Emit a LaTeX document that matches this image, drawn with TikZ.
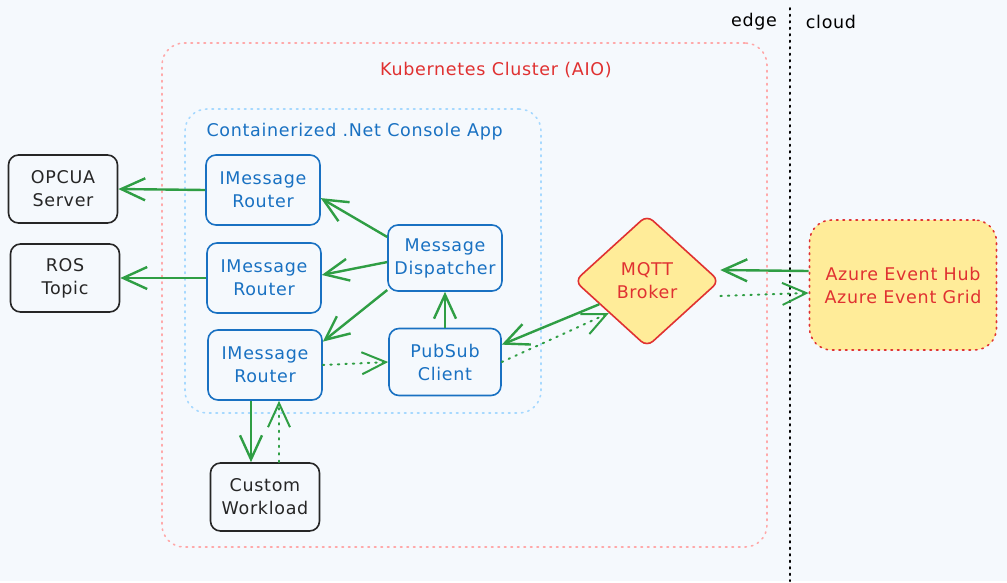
\documentclass[tikz,border=0pt]{standalone}
\usepackage{fontspec}
\setmainfont[LetterSpace=4]{DejaVu Sans}
\usetikzlibrary{positioning,shapes.geometric,arrows.meta}
\definecolor{bgblue}{HTML}{F5F9FD}
\definecolor{appblue}{HTML}{1971C2}
\definecolor{lightblue}{HTML}{A5D8FF}
\definecolor{aiored}{HTML}{E03131}
\definecolor{lightred}{HTML}{FFA8A8}
\definecolor{flowgreen}{HTML}{2F9E44}
\definecolor{hubyellow}{HTML}{FFEC99}

\begin{document}
\begin{tikzpicture}[x=1pt,y=-1pt,font=\fontsize{17.5}{23}\selectfont]
	\tikzstyle{box}=[draw, rounded corners=10pt, line width=1.6pt, align=center, inner sep=2pt]
	\tikzstyle{component}=[box, draw=appblue, text=appblue, minimum width=114pt, minimum height=70pt]
	\tikzstyle{endpoint}=[box, draw=black!85, text=black!85, minimum width=109pt, minimum height=68pt]
	\tikzstyle{region}=[rounded corners=22pt, line width=1.6pt, dash pattern=on 1.5pt off 5pt, line cap=round]
	\tikzstyle{flow}=[-{Straight Barb[length=24pt,width=22pt]}, draw=flowgreen, line width=2.4pt]
	\tikzstyle{reply}=[flow, line width=2pt, dash pattern=on 1.5pt off 6pt, line cap=round]

	\fill[bgblue] (0,0) rectangle (1007,581);

	\coordinate (split top) at (790,8);
	\coordinate (split bottom) at (790,581);
	\draw[black, line width=2pt, dash pattern=on 1.5pt off 5pt, line cap=round] (split top) -- (split bottom);
	\node (edge) at (754,22) {edge};
	\node (cloud) at (831,22) {cloud};

	\node (cluster) [region, draw=lightred, minimum width=605pt, minimum height=504pt] at (464.5,295) {};
	\node (cluster label) [text=aiored] at (496,70) {Kubernetes Cluster (AIO)};
	\node (app) [region, draw=lightblue, minimum width=356pt, minimum height=304pt] at (363,261) {};
	\node (app label) [text=appblue, anchor=west] at (203,132) {Containerized .Net Console App};

	\node (opcua) [endpoint] at (63,189) {OPCUA\\Server};
	\node (ros) [endpoint] at (65,278) {ROS\\Topic};
	\node (work) [endpoint] at (265,497) {Custom\\Workload};

	\node (r1) [component] at (263,190) {IMessage\\Router};
	\node (r2) [component] at (264,278) {IMessage\\Router};
	\node (r3) [component] at (265,365) {IMessage\\Router};
	\node (disp) [component, minimum height=66pt] at (445,258) {Message\\Dispatcher};
	\node (pubsub) [component, minimum width=112pt, minimum height=67pt] at (445,362) {PubSub\\Client};

	\node (broker) [diamond, draw=aiored, fill=hubyellow, text=aiored, line width=1.6pt, rounded corners=8pt, minimum width=145pt, minimum height=132pt, align=center, inner sep=0pt] at (647,281) {MQTT\\Broker};
	\node (azure) [box, draw=aiored, fill=hubyellow, text=aiored, rounded corners=22pt, dash pattern=on 1.5pt off 5pt, line cap=round, minimum width=187pt, minimum height=130pt] at (903,285) {Azure Event Hub\\Azure Event Grid};

	\draw[flow] (r1.west) -- (opcua.east);
	\draw[flow] (r2.west) -- (ros.east);
	\draw[flow] (disp.160) -- (r1.-8);
	\draw[flow] (disp.184) -- (r2.3);
	\draw[flow] (disp.209) -- (r3.22);
	\draw[flow] (pubsub.north) -- (disp.south);
	\draw[flow] (broker.206) -- (pubsub.17);
	\draw[reply] (pubsub.east) -- (broker.220);
	\draw[reply] (r3.east) -- (pubsub.west);
	\draw[flow] ([yshift=14pt]azure.west) -- ([yshift=11pt]broker.east);
	\draw[reply] ([yshift=-15pt]broker.east) -- ([yshift=-8pt]azure.west);
	\draw[flow] ([xshift=-14pt]r3.south) -- ([xshift=-14pt]work.north);
	\draw[reply] ([xshift=14pt]work.north) -- ([xshift=14pt]r3.south);
\end{tikzpicture}
\end{document}
